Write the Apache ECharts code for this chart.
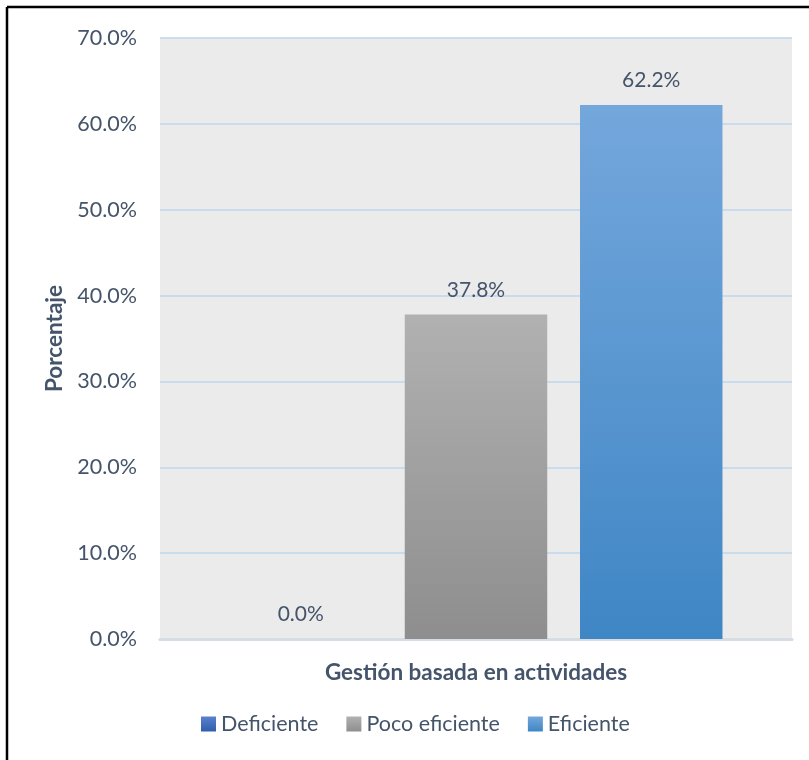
<!DOCTYPE html>
<html>
<head>
<meta charset="utf-8">
<script src="https://cdn.jsdelivr.net/npm/echarts@6/dist/echarts.min.js"></script>
<style>
  html, body { margin: 0; padding: 0; background: #fff; }
  #chart { width: 809px; height: 760px; }
</style>
</head>
<body>
<div id="chart"></div>
<script>
  // datos del gráfico
  var categorias = ['Gestión basada en actividades'];
  var deficiente = [0.0];
  var pocoEficiente = [37.8];
  var eficiente = [62.2];
  var nombres = ['Deficiente', 'Poco eficiente', 'Eficiente'];

  var txt = '#44546a';
  var fuente = 'Lato';

  function grad(top, bottom) {
    return new echarts.graphic.LinearGradient(0, 0, 0, 1, [
      {offset: 0, color: top},
      {offset: 1, color: bottom}
    ]);
  }

  function serie(nombre, datos, c1, c2) {
    return {
      name: nombre,
      type: 'bar',
      data: datos,
      barGap: '23%',
      barCategoryGap: '22%',
      itemStyle: { color: grad(c1, c2) },
      label: {
        show: true,
        position: 'top',
        distance: 14,
        color: txt,
        fontFamily: fuente,
        fontSize: 21,
        formatter: function (p) { return p.value.toFixed(1) + '%'; }
      }
    };
  }

  var chart = echarts.init(document.getElementById('chart'));
  chart.setOption({
    animation: false,
    textStyle: { fontFamily: fuente },
    graphic: [
      { type: 'line', shape: {x1: 7, y1: 7, x2: 809, y2: 7}, style: {stroke: '#000', lineWidth: 2.5} },
      { type: 'line', shape: {x1: 7, y1: 7, x2: 7, y2: 760}, style: {stroke: '#000', lineWidth: 2.5} }
    ],
    grid: {
      left: 160, right: 17, top: 38, bottom: 121,
      show: true, backgroundColor: '#ebebeb', borderWidth: 0
    },
    legend: {
      left: 196, top: 708,
      itemWidth: 15, itemHeight: 15, itemGap: 28,
      icon: 'rect',
      textStyle: { color: txt, fontSize: 21.5, fontFamily: fuente },
      data: nombres
    },
    xAxis: {
      type: 'category',
      data: categorias,
      name: categorias[0],
      nameLocation: 'middle',
      nameGap: 22,
      nameTextStyle: { color: txt, fontSize: 22.5, fontWeight: 'bold', fontFamily: fuente },
      axisLabel: { show: false },
      axisTick: { show: false },
      axisLine: { lineStyle: { color: '#d6dce4', width: 3 } }
    },
    yAxis: {
      type: 'value',
      min: 0, max: 70, interval: 10,
      name: 'Porcentaje',
      nameLocation: 'middle',
      nameGap: 93,
      nameTextStyle: { color: txt, fontSize: 22.5, fontWeight: 'bold', fontFamily: fuente },
      axisLabel: {
        color: txt, fontSize: 21.5, margin: 23, fontFamily: fuente,
        formatter: function (v) { return v.toFixed(1) + '%'; }
      },
      axisLine: { show: false },
      axisTick: { show: false },
      splitLine: { lineStyle: { color: '#bdd7ee', width: 1.5 } }
    },
    series: [
      serie(nombres[0], deficiente, '#5b81cd', '#2e5eae'),
      serie(nombres[1], pocoEficiente, '#b1b1b1', '#8e8e8e'),
      serie(nombres[2], eficiente, '#74a7dc', '#3f86c5')
    ]
  });
</script>
</body>
</html>
